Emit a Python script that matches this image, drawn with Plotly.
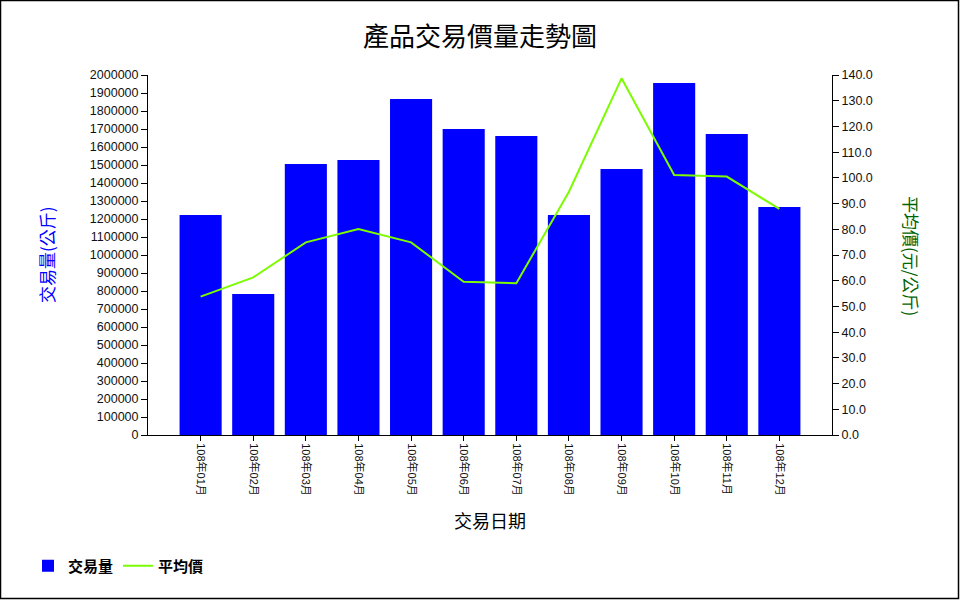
import plotly.graph_objects as go

months = ["108年01月", "108年02月", "108年03月", "108年04月", "108年05月", "108年06月",
          "108年07月", "108年08月", "108年09月", "108年10月", "108年11月", "108年12月"]
volume = [1222000, 783000, 1506000, 1528000, 1867000, 1700000,
          1661000, 1222000, 1478000, 1956000, 1672000, 1267000]
avg_price = [53.8, 61.3, 74.9, 80.1, 74.9, 59.6, 59.0, 94.6, 138.7, 101.1, 100.5, 87.9]

left_ticks = list(range(0, 2000001, 100000))
right_ticks = [i * 10 for i in range(15)]

CJK = "Noto Sans CJK TC"
NUM = "Liberation Sans, Noto Sans CJK TC"

# plot area in pixels
L, R, T, B = 148, 832, 75, 435
W, H = 960, 600
pw, ph = R - L, B - T

def px(x):
    return (x - L) / pw

def py(y):
    return (B - y) / ph

fig = go.Figure()
fig.add_trace(go.Bar(
    x=months, y=volume, name="交易量",
    marker=dict(color="#0000FF", line=dict(width=0)),
    yaxis="y",
))
fig.add_trace(go.Scatter(
    x=months, y=avg_price, name="平均價", mode="lines",
    line=dict(color="#7CFC00", width=2),
    yaxis="y2",
))

fig.update_layout(
    width=W, height=H,
    margin=dict(l=L, r=W - R, t=T, b=H - B, pad=0),
    paper_bgcolor="white", plot_bgcolor="white",
    bargap=0.2,
    showlegend=True,
    legend=dict(
        orientation="h", x=px(28), y=py(566), xanchor="left", yanchor="middle",
        font=dict(family=CJK, size=15, color="black", weight="bold"),
        bgcolor="rgba(0,0,0,0)", itemwidth=30, traceorder="normal",
    ),
    xaxis=dict(
        type="category", range=[-1, 12],
        showline=True, linecolor="black", linewidth=1,
        ticks="outside", ticklen=5, tickcolor="black",
        tickangle=90, tickfont=dict(family=NUM, size=11, color="#111"),
        showgrid=False, zeroline=False, fixedrange=True,
    ),
    yaxis=dict(
        range=[0, 2000000], tickvals=left_ticks, tickformat="d",
        showline=True, linecolor="black", linewidth=1,
        ticks="outside", ticklen=6, tickcolor="black",
        tickfont=dict(family=NUM, size=12.5, color="#111"),
        showgrid=False, zeroline=False,
    ),
    yaxis2=dict(
        range=[0, 140], tickvals=right_ticks, tickformat=".1f",
        overlaying="y", side="right",
        showline=True, linecolor="black", linewidth=1,
        ticks="outside", ticklen=6, tickcolor="black",
        tickfont=dict(family=NUM, size=12.5, color="#111"),
        showgrid=False, zeroline=False,
    ),
    annotations=[
        dict(text="產品交易價量走勢圖", xref="paper", yref="paper",
             x=px(480), y=py(35), xanchor="center", yanchor="middle",
             showarrow=False, font=dict(family=CJK, size=26, color="black")),
        dict(text="交易日期", xref="paper", yref="paper",
             x=px(490), y=py(520), xanchor="center", yanchor="middle",
             showarrow=False, font=dict(family=CJK, size=18, color="black")),
        dict(text="交易量(公斤)", xref="paper", yref="paper",
             x=px(46), y=py(255), xanchor="center", yanchor="middle",
             textangle=-90, showarrow=False,
             font=dict(family=CJK, size=17, color="#0000FF")),
        dict(text="平均價(元/公斤)", xref="paper", yref="paper",
             x=px(912), y=py(256), xanchor="center", yanchor="middle",
             textangle=90, showarrow=False,
             font=dict(family=CJK, size=17, color="#006400")),
    ],
    shapes=[
        dict(type="rect", xref="paper", yref="paper",
             x0=px(0.5), x1=px(958.5), y0=py(598.5), y1=py(0.5),
             line=dict(color="black", width=1.5), fillcolor="rgba(0,0,0,0)",
             layer="below"),
    ],
)

fig.write_html("out.html")
